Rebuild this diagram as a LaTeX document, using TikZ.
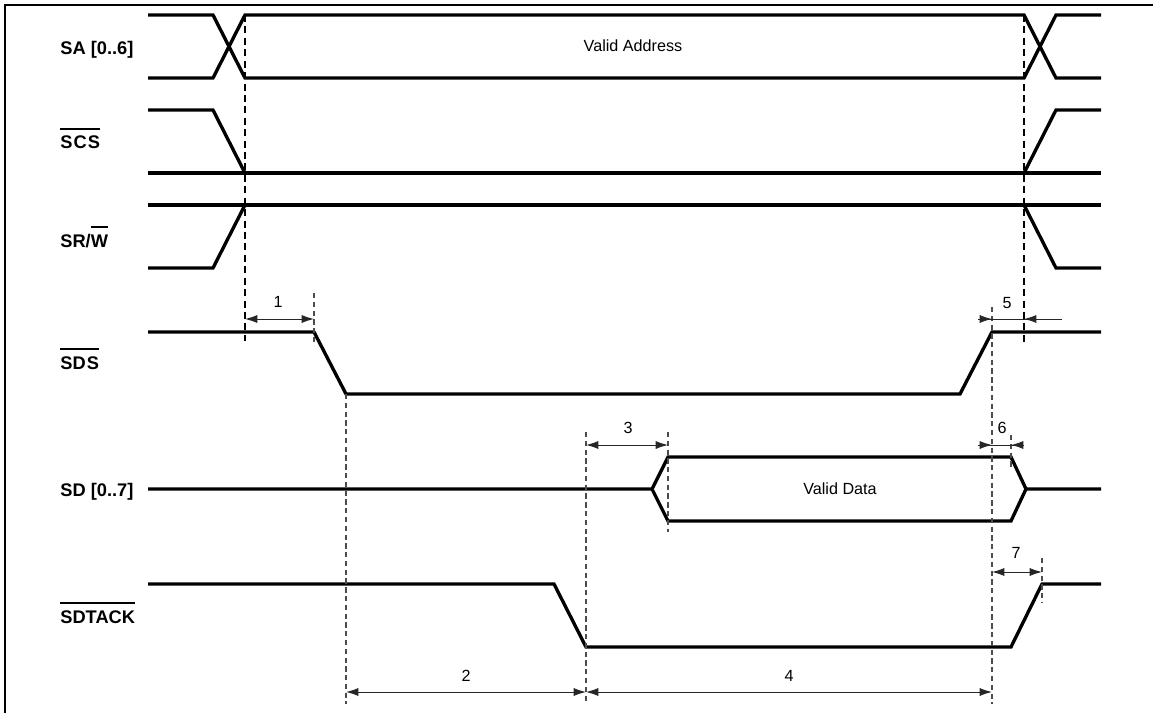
\documentclass[tikz,border=0pt]{standalone}
\usepackage{fontspec}
\setmainfont{Liberation Sans}
\usepackage{tikz}
\usetikzlibrary{arrows.meta}

% bar over a signal name (active low)
\newsavebox\barbox
\newcommand\barred[1]{\leavevmode\sbox\barbox{#1}%
  \rlap{\raisebox{\dimexpr\ht\barbox+3.6pt\relax}{\rule{\wd\barbox}{1.1pt}}}\usebox\barbox}

\tikzset{
  sig/.style={line width=1.9pt, line join=miter},
  guide/.style={densely dashed, line width=0.6pt, black!70},
  guidek/.style={dashed, line width=0.8pt, black, dash pattern=on 4pt off 2.5pt},
  dim/.style={line width=0.55pt, black!85},
  dimarr/.style={dim, {Latex[length=7pt,width=4.6pt]}-{Latex[length=7pt,width=4.6pt]}},
  tipend/.style={dim, -{Latex[length=7pt,width=4.6pt]}},
  siglabel/.style={anchor=base west, inner sep=0pt, font=\fontsize{10.4}{12}\selectfont\bfseries},
  numlabel/.style={anchor=base, inner sep=0pt, font=\fontsize{9.2}{11}\selectfont}
}

\begin{document}
\begin{tikzpicture}[x=0.02cm, y=-0.02cm]
\useasboundingbox (0,0) rectangle (1153,713);
% frame
\draw[line width=1.2pt] (5,5) rectangle (1180,740);

% signal names
\node[siglabel] (lSA) at (60,55) {SA [0..6]};
\node[siglabel] (lSCS) at (60,149) {\barred{S\kern0.6pt C\kern0.6pt S}};
\node[siglabel] (lSRW) at (60,247) {SR/\barred{W}};
\node[siglabel] (lSDS) at (60,369) {\barred{SD\kern0.6pt S}};
\node[siglabel] (lSD) at (60,496) {SD [0..7]};
\node[siglabel] (lSDTACK) at (60,623) {\barred{SDTACK}};

% SA bus
\draw[sig] (148,15) -- (213,15) -- (245,78) -- (1024,78) -- (1056,15) -- (1101,15);
\draw[sig] (148,78) -- (213,78) -- (245,15) -- (1024,15) -- (1056,78) -- (1101,78);
\node[numlabel] (vaddr) at (633,52) {Valid Address};

% SCS
\draw[sig] (148,173) -- (1101,173);
\draw[sig] (148,110) -- (213,110) -- (245,173);
\draw[sig] (1024,173) -- (1056,110) -- (1101,110);

% SR/W
\draw[sig] (148,205) -- (1101,205);
\draw[sig] (148,268) -- (213,268) -- (245,205);
\draw[sig] (1024,205) -- (1056,268) -- (1101,268);

% SDS
\draw[sig] (148,332) -- (314,332) -- (346,394) -- (960,394) -- (992,332) -- (1101,332);

% SD bus
\draw[sig] (148,489) -- (652,489) -- (668,457) -- (1011,457) -- (1026,489) -- (1101,489);
\draw[sig] (652,489) -- (668,521) -- (1011,521) -- (1026,489);
\node[numlabel] (vdata) at (840,494) {Valid Data};

% SDTACK
\draw[sig] (148,584) -- (554,584) -- (586,647) -- (1011,647) -- (1042,584) -- (1101,584);

% guide lines
\draw[guidek] (245,15) -- (245,341);
\draw[guidek] (1024,15) -- (1024,345);
\draw[guide] (314,293) -- (314,343);
\draw[guide] (346,394) -- (346,704);
\draw[guide] (586,432) -- (586,704);
\draw[guide] (668,432) -- (668,532);
\draw[guide] (992,307) -- (992,704);
\draw[guide] (1011,435) -- (1011,470);
\draw[guide] (1042,558) -- (1042,602);

% timing marks
\coordinate (a1) at (245,319); \coordinate (b1) at (314,319);
\coordinate (a2) at (346,692); \coordinate (b2) at (586,692);
\coordinate (a3) at (586,445); \coordinate (b3) at (668,445);
\coordinate (b4) at (992,692);
\coordinate (a5) at (992,319); \coordinate (b5) at (1024,319);
\coordinate (o5l) at (978,319); \coordinate (o5r) at (1062,319);
\coordinate (a6) at (992,445); \coordinate (b6) at (1011,445);
\coordinate (o6l) at (978,445); \coordinate (o6r) at (1024,445);
\coordinate (a7) at (992,572); \coordinate (b7) at (1042,572);

\draw[dimarr] (a1) -- (b1);
\draw[dimarr] (a2) -- (b2);
\draw[dimarr] (a3) -- (b3);
\draw[dimarr] (b2) -- (b4);
\draw[dim] (o5l) -- (o5r);
\draw[tipend] (o5l) -- (a5);
\draw[tipend] (o5r) -- (b5);
\draw[dim] (o6l) -- (o6r);
\draw[tipend] (o6l) -- (a6);
\draw[tipend] (o6r) -- (b6);
\draw[dimarr] (a7) -- (b7);

\node[numlabel] (n1) at (278,307) {1};
\node[numlabel] (n2) at (466,681) {2};
\node[numlabel] (n3) at (628,433) {3};
\node[numlabel] (n4) at (789,681) {4};
\node[numlabel] (n5) at (1007,308) {5};
\node[numlabel] (n6) at (1002,433) {6};
\node[numlabel] (n7) at (1016,558) {7};
\end{tikzpicture}
\end{document}
